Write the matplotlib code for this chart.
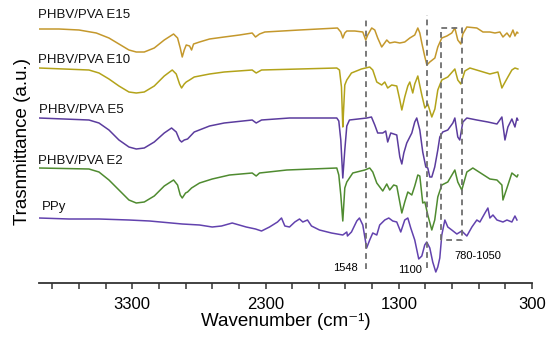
import numpy as np
import matplotlib.pyplot as plt
from matplotlib.ticker import FixedLocator

plt.rcParams['font.family'] = ['Liberation Sans', 'DejaVu Sans']

# FTIR spectra: wavenumber (cm-1) and offset transmittance (a.u.)
wn_e15 = [4000, 3850, 3700, 3570, 3475, 3400, 3325, 3270, 3210, 3135, 3060, 2990, 2960, 2940,
          2925, 2910, 2895, 2870, 2855, 2840, 2795, 2720, 2610, 2495, 2400, 2375, 2345, 2305,
          2045, 1760, 1735, 1720, 1705, 1690, 1630, 1570, 1548, 1533, 1503, 1480, 1458, 1428,
          1406, 1390, 1368, 1330, 1292, 1255, 1217, 1180, 1157, 1142, 1127, 1104, 1089, 1067,
          1029, 1007, 977, 939, 902, 879, 857, 834, 819, 789, 714, 668, 616, 578, 541, 518,
          488, 466, 443, 428, 413, 406]
t_e15 = [254, 254, 253, 250, 245, 239, 233, 231, 231, 235, 243, 249, 245, 235,
         226, 233, 238, 237, 233, 239, 241, 244, 246, 248, 250, 246, 249, 251,
         253, 255, 251, 245, 250, 252, 252, 251, 243, 248, 255, 253, 245, 236,
         240, 243, 240, 241, 240, 241, 245, 248, 255, 250, 240, 226, 218, 221,
         225, 236, 245, 247, 250, 255, 243, 239, 249, 256, 255, 251, 251, 250, 251, 246,
         250, 246, 253, 247, 251, 250]

wn_e10 = [4000, 3625, 3550, 3475, 3400, 3325, 3270, 3210, 3135, 3060, 3000, 2970, 2945, 2930,
          2910, 2895, 2870, 2835, 2720, 2610, 2400, 2370, 2330, 2045, 1765, 1745, 1730, 1720,
          1714, 1705, 1690, 1655, 1580, 1518, 1495, 1465, 1428, 1405, 1383, 1353, 1315, 1292,
          1277, 1255, 1232, 1217, 1195, 1180, 1157, 1127, 1104, 1082, 1052, 1029, 1007, 977,
          932, 879, 857, 834, 804, 766, 691, 616, 556, 526, 510, 481, 451, 428, 406]
t_e10 = [215, 213, 210, 204, 197, 191, 190, 191, 197, 207, 213, 209, 199, 195,
         199, 201, 203, 206, 209, 211, 213, 210, 213, 214, 215, 213, 196, 156,
         173, 198, 203, 210, 214, 216, 213, 201, 198, 201, 195, 198, 197, 183,
         173, 186, 197, 201, 190, 199, 207, 188, 175, 179, 166, 174, 193, 203,
         206, 214, 203, 199, 212, 215, 212, 209, 211, 195, 199, 206, 213, 215, 214]

wn_e5 = [4000, 3625, 3550, 3475, 3400, 3325, 3270, 3210, 3135, 3060, 3005, 2970, 2945, 2930,
         2910, 2885, 2835, 2720, 2610, 2400, 2370, 2330, 2120, 1765, 1750, 1735, 1720, 1705,
         1690, 1670, 1540, 1505, 1480, 1458, 1420, 1398, 1383, 1360, 1315, 1292, 1277, 1262,
         1240, 1202, 1180, 1165, 1142, 1120, 1097, 1082, 1067, 1052, 1030, 1007, 992, 970,
         932, 894, 879, 857, 842, 819, 789, 714, 631, 563, 526, 503, 481, 451, 428, 413, 406]
t_e5 = [165, 163, 160, 153, 143, 136, 134, 135, 141, 150, 155, 151, 143, 141,
        143, 144, 151, 157, 160, 163, 160, 163, 165, 165, 162, 143, 105, 133,
        157, 163, 165, 166, 158, 150, 150, 152, 141, 150, 148, 126, 119, 130,
        140, 150, 161, 165, 153, 131, 116, 115, 106, 106, 116, 133, 146, 151,
        153, 160, 165, 146, 143, 161, 165, 163, 161, 159, 166, 143, 156, 164, 156, 165, 163]

wn_e2 = [4000, 3625, 3550, 3475, 3400, 3325, 3270, 3210, 3135, 3060, 2990, 2960, 2940, 2925,
         2900, 2885, 2855, 2795, 2700, 2570, 2400, 2370, 2345, 2140, 1765, 1750, 1735, 1720,
         1705, 1690, 1645, 1555, 1518, 1495, 1465, 1420, 1390, 1368, 1338, 1315, 1277, 1255,
         1232, 1202, 1180, 1157, 1142, 1120, 1104, 1082, 1052, 1030, 1007, 977, 932, 879,
         857, 827, 789, 744, 616, 563, 526, 518, 488, 451, 413, 406]
t_e2 = [115, 114, 111, 103, 93, 83, 80, 81, 87, 97, 103, 98, 88, 85,
        90, 91, 95, 100, 104, 108, 110, 107, 110, 113, 115, 108, 88, 62,
        95, 101, 110, 113, 115, 111, 100, 92, 99, 93, 98, 97, 70, 81,
        91, 88, 97, 108, 107, 80, 81, 68, 53, 63, 86, 98, 101, 113,
        101, 93, 111, 115, 104, 103, 98, 83, 95, 110, 106, 108]

wn_ppy = [4000, 3775, 3550, 3325, 3170, 2925, 2795, 2700, 2630, 2550, 2445, 2375, 2330, 2270,
          2210, 2180, 2155, 2120, 2080, 2045, 2020, 1985, 1955, 1895, 1805, 1720, 1690, 1685,
          1655, 1615, 1595, 1570, 1541, 1518, 1495, 1465, 1443, 1405, 1375, 1345, 1315, 1285,
          1255, 1232, 1210, 1180, 1150, 1127, 1105, 1090, 1067, 1045, 1022, 1007, 992, 977,
          954, 932, 902, 864, 827, 789, 751, 714, 691, 653, 631, 616, 593, 563, 518, 488,
          451, 428, 413]
t_ppy = [65, 64, 64, 63, 62, 59, 58, 56, 57, 60, 56, 54, 52, 56,
         61, 65, 57, 56, 61, 64, 61, 63, 57, 53, 50, 48, 51, 47,
         51, 62, 65, 58, 35, 43, 50, 48, 58, 63, 65, 62, 61, 51,
         63, 65, 55, 43, 24, 27, 38, 41, 35, 21, 11, 16, 25, 48,
         63, 56, 53, 49, 52, 47, 56, 63, 61, 70, 75, 65, 68, 63, 61, 63,
         61, 67, 63]

names = ['PHBV/PVA E15', 'PHBV/PVA E10', 'PHBV/PVA E5', 'PHBV/PVA E2', 'PPy']
colors = ['#C4982C', '#B3A31A', '#5B3C9E', '#4F8B30', '#6242AE']
label_x = [4010, 4010, 4000, 4010, 3975]
label_y = [268, 223, 173, 122, 76]

# marked bands
band_lines = [1545, 1090]
band_box = (985, 826, 43, 255)

fig = plt.figure(figsize=(5.5, 3.42), dpi=100)
ax = fig.add_axes([39 / 550, 59 / 342, 493 / 550, 283 / 342])

series = [(wn_e15, t_e15), (wn_e10, t_e10), (wn_e5, t_e5), (wn_e2, t_e2), (wn_ppy, t_ppy)]
for (x, y), c in zip(series, colors):
    ax.plot(x, y, color=c, linewidth=1.1)

for name, c, lx, ly in zip(names, colors, label_x, label_y):
    ax.text(lx, ly, name, fontsize=9.5, ha='left', va='center', color='#111111')

dash = (0, (3.2, 2.4))
ax.plot([band_lines[0]] * 2, [14, 266], color='#6e6e6e', lw=1.3, ls=dash)
ax.plot([band_lines[1]] * 2, [15, 268], color='#6e6e6e', lw=1.3, ls=dash)
x0, x1, y0, y1 = band_box
ax.plot([x0, x0, x1, x1, x0], [y0, y1, y1, y0, y0], color='#6e6e6e', lw=1.3, ls=dash)

ax.text(1700, 15, '1548', fontsize=8, ha='center', va='center')
ax.text(1217, 13, '1100', fontsize=8, ha='center', va='center')
ax.text(706, 27, '780-1050', fontsize=8, ha='center', va='center')

ax.set_xlim(4000, 300)
ax.set_ylim(0, 283)
for s in ['top', 'left', 'right']:
    ax.spines[s].set_visible(False)
ax.spines['bottom'].set_color('#333333')
ax.spines['bottom'].set_linewidth(1.3)
ax.set_yticks([])
ax.xaxis.set_major_locator(FixedLocator([3300, 2300, 1300, 300]))
ax.xaxis.set_minor_locator(FixedLocator(list(range(500, 4000, 200))))
ax.tick_params(axis='x', which='both', length=4, width=1.1, color='#333333', direction='out')
ax.tick_params(axis='x', which='major', labelsize=12, pad=6)
ax.set_xlabel('Wavenumber (cm\u207b\u00b9)', fontsize=13.5, labelpad=1)
ax.set_ylabel('Trasnmittance (a.u.)', fontsize=13.5, labelpad=6)
ax.patch.set_alpha(0)

fig.savefig('out.png', dpi=100)
